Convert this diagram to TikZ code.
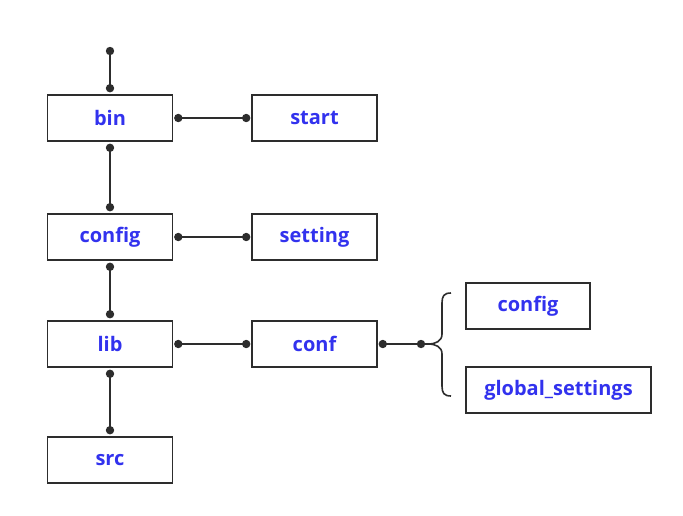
\documentclass[tikz,border=0pt]{standalone}
\usepackage{fontspec}
\setmainfont{Open Sans}
\begin{document}
\begin{tikzpicture}[x=1pt,y=-1pt,
  box/.style={draw=linec, line width=1.6pt, minimum width=125pt, minimum height=46pt, inner sep=0pt, font=\fontsize{20}{24}\selectfont\bfseries, text=txtc},
  conn/.style={draw=linec, line width=1.6pt},
  dotc/.style={fill=linec}]
\definecolor{linec}{RGB}{45,45,45}
\definecolor{txtc}{RGB}{50,50,238}
\useasboundingbox (0,0) rectangle (683,515);
\node[box] (bin) at (110,118) {bin};
\node[box] (start) at (314.5,118) {start};
\node[box] (config) at (110,237) {config};
\node[box] (setting) at (314.5,237) {setting};
\node[box] (lib) at (110,344) {lib};
\node[box] (conf) at (314.5,344) {conf};
\node[box] (src) at (110,460) {src};
\node[box, minimum width=124pt] (cfg2) at (528,306) {config};
\node[box, minimum width=185pt] (glob) at (558.5,390) {global\_settings};
\coordinate (top) at (110,51);
\coordinate (tip) at (421,344);
% vertical
\draw[conn] (top) -- ([yshift=6pt]bin.north);
\fill[dotc] (top) circle (4.2pt) ([yshift=6pt]bin.north) circle (4.2pt);
\draw[conn] ([yshift=-6pt]bin.south) -- ([yshift=6pt]config.north);
\fill[dotc] ([yshift=-6pt]bin.south) circle (4.2pt) ([yshift=6pt]config.north) circle (4.2pt);
\draw[conn] ([yshift=-6pt]config.south) -- ([yshift=6pt]lib.north);
\fill[dotc] ([yshift=-6pt]config.south) circle (4.2pt) ([yshift=6pt]lib.north) circle (4.2pt);
\draw[conn] ([yshift=-6pt]lib.south) -- ([yshift=6pt]src.north);
\fill[dotc] ([yshift=-6pt]lib.south) circle (4.2pt) ([yshift=6pt]src.north) circle (4.2pt);
% horizontal
\draw[conn] ([xshift=5pt]bin.east) -- ([xshift=-5pt]start.west);
\fill[dotc] ([xshift=5pt]bin.east) circle (4.2pt) ([xshift=-5pt]start.west) circle (4.2pt);
\draw[conn] ([xshift=5pt]config.east) -- ([xshift=-5pt]setting.west);
\fill[dotc] ([xshift=5pt]config.east) circle (4.2pt) ([xshift=-5pt]setting.west) circle (4.2pt);
\draw[conn] ([xshift=5pt]lib.east) -- ([xshift=-5pt]conf.west);
\fill[dotc] ([xshift=5pt]lib.east) circle (4.2pt) ([xshift=-5pt]conf.west) circle (4.2pt);
\draw[conn] ([xshift=5pt]conf.east) -- (tip) -- (428,344);
\fill[dotc] ([xshift=5pt]conf.east) circle (4.2pt) (tip) circle (4.2pt);
% brace
\draw[conn] (451,293) .. controls (444,293) and (442,296) .. (442,303)
  -- (442,334) .. controls (442,341) and (436,344) .. (428,344)
  .. controls (436,344) and (442,347) .. (442,354)
  -- (442,386) .. controls (442,393) and (444,396) .. (451,396);
\end{tikzpicture}
\end{document}
